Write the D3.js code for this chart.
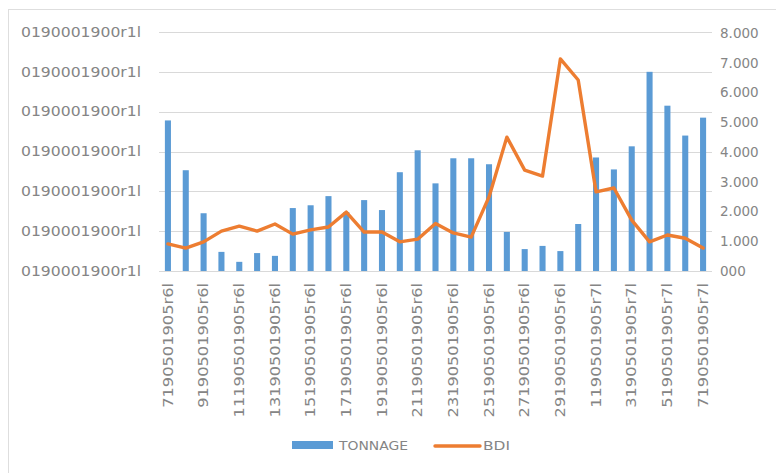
<!DOCTYPE html>
<html>
<head>
<meta charset="utf-8">
<script src="https://cdn.jsdelivr.net/npm/d3@7"></script>
<style>
  html, body { margin: 0; padding: 0; background: #fff; }
  svg { display: block; }
  text { font-family: "DejaVu Sans", sans-serif; fill: #858585; }
</style>
</head>
<body>
<svg id="chart" width="776" height="473"></svg>
<script>
// Daily categories, 7 June to 7 July
const categories = [
  "7190501905r6l", "8190501905r6l", "9190501905r6l", "10190501905r6l",
  "11190501905r6l", "12190501905r6l", "13190501905r6l", "14190501905r6l",
  "15190501905r6l", "16190501905r6l", "17190501905r6l", "18190501905r6l",
  "19190501905r6l", "20190501905r6l", "21190501905r6l", "22190501905r6l",
  "23190501905r6l", "24190501905r6l", "25190501905r6l", "26190501905r6l",
  "27190501905r6l", "28190501905r6l", "29190501905r6l", "30190501905r6l",
  "1190501905r7l", "2190501905r7l", "3190501905r7l", "4190501905r7l",
  "5190501905r7l", "6190501905r7l", "7190501905r7l"
];

// TONNAGE (left axis units)
const tonnage = [
  3.78, 2.53, 1.45, 0.48, 0.23, 0.45, 0.38, 1.58, 1.65, 1.88, 1.48,
  1.78, 1.53, 2.48, 3.03, 2.20, 2.83, 2.83, 2.68, 0.98, 0.55, 0.63,
  0.50, 1.18, 2.85, 2.55, 3.13, 5.00, 4.15, 3.40, 3.85
];

// BDI (right axis, thousands)
const bdi = [
  0.91, 0.77, 0.98, 1.34, 1.51, 1.34, 1.58, 1.24, 1.38, 1.48, 1.98,
  1.31, 1.31, 0.98, 1.07, 1.60, 1.28, 1.14, 2.49, 4.50, 3.39, 3.19,
  7.13, 6.42, 2.66, 2.79, 1.71, 0.98, 1.21, 1.10, 0.77
];

const leftTicks = [0, 1, 2, 3, 4, 5, 6];
const leftTickLabels = ["0190001900r1l", "0190001900r1l", "0190001900r1l",
  "0190001900r1l", "0190001900r1l", "0190001900r1l", "0190001900r1l"];
const rightTicks = [0, 1, 2, 3, 4, 5, 6, 7, 8];
const rightTickLabels = ["000", "1.000", "2.000", "3.000", "4.000",
  "5.000", "6.000", "7.000", "8.000"];

const seriesNames = ["TONNAGE", "BDI"];
const colors = { bar: "#5b9bd5", line: "#ed7d31" };

const svg = d3.select("#chart");

// chart frame
svg.append("rect")
  .attr("x", 8.5).attr("y", 9.5)
  .attr("width", 800).attr("height", 500)
  .attr("fill", "none").attr("stroke", "#dedede");

const plot = { left: 159, right: 712, top: 32, bottom: 271 };

const x = d3.scaleBand()
  .domain(categories)
  .range([plot.left, plot.right])
  .paddingInner(0.66)
  .paddingOuter(0.33);

const yL = d3.scaleLinear().domain([0, 6]).range([plot.bottom, plot.top]);
const yR = d3.scaleLinear().domain([0, 8]).range([plot.bottom, 33]);

// gridlines
svg.append("g")
  .selectAll("line")
  .data(leftTicks)
  .join("line")
  .attr("x1", plot.left).attr("x2", plot.right)
  .attr("y1", d => Math.round(yL(d)) + 0.5)
  .attr("y2", d => Math.round(yL(d)) + 0.5)
  .attr("stroke", "#d9d9d9").attr("stroke-width", 1);

// left axis
const axisL = d3.axisLeft(yL)
  .tickValues(leftTicks)
  .tickSize(0)
  .tickPadding(0)
  .tickFormat((d, i) => leftTickLabels[i]);
const gL = svg.append("g").attr("transform", "translate(141,0)").call(axisL);
gL.select(".domain").remove();
gL.selectAll("text")
  .attr("font-size", 13.5)
  .attr("textLength", 120)
  .attr("lengthAdjust", "spacingAndGlyphs");

// right axis
const axisR = d3.axisRight(yR)
  .tickValues(rightTicks)
  .tickSize(0)
  .tickPadding(0)
  .tickFormat((d, i) => rightTickLabels[i]);
const gR = svg.append("g").attr("transform", "translate(720,0)").call(axisR);
gR.select(".domain").remove();
gR.selectAll("text")
  .attr("font-size", 13.5);

// bottom axis: every other category labelled
const axisB = d3.axisBottom(x)
  .tickSize(0)
  .tickPadding(0)
  .tickFormat((d, i) => (i % 2 === 0 ? d : ""));
const gB = svg.append("g").attr("transform", `translate(0,${plot.bottom})`).call(axisB);
gB.select(".domain").remove();
gB.selectAll("text")
  .attr("font-size", 13.5)
  .attr("text-anchor", "end")
  .attr("transform", "rotate(-90)")
  .attr("x", -12)
  .attr("y", 0)
  .attr("dy", "0.35em")
  .each(function (d, i) {
    if (i % 2 === 0) {
      d3.select(this)
        .attr("textLength", d.length * 9.6)
        .attr("lengthAdjust", "spacingAndGlyphs");
    }
  });

// TONNAGE bars
svg.append("g")
  .selectAll("rect")
  .data(tonnage)
  .join("rect")
  .attr("x", (d, i) => x(categories[i]))
  .attr("width", x.bandwidth())
  .attr("y", d => yL(d))
  .attr("height", d => yL(0) - yL(d))
  .attr("fill", colors.bar);

// BDI line
const line = d3.line()
  .x((d, i) => x(categories[i]) + x.bandwidth() / 2)
  .y(d => yR(d));
svg.append("path")
  .datum(bdi)
  .attr("d", line)
  .attr("fill", "none")
  .attr("stroke", colors.line)
  .attr("stroke-width", 3.4)
  .attr("stroke-linejoin", "round")
  .attr("stroke-linecap", "round");

// legend
const legend = svg.append("g").attr("font-size", 13);
legend.append("rect")
  .attr("x", 292).attr("y", 441).attr("width", 41).attr("height", 8)
  .attr("fill", colors.bar);
legend.append("text")
  .attr("x", 339).attr("y", 445).attr("dy", "0.35em")
  .attr("textLength", 69).attr("lengthAdjust", "spacingAndGlyphs")
  .text(seriesNames[0]);
legend.append("line")
  .attr("x1", 435).attr("x2", 480).attr("y1", 446).attr("y2", 446)
  .attr("stroke", colors.line).attr("stroke-width", 3.4)
  .attr("stroke-linecap", "round");
legend.append("text")
  .attr("x", 483).attr("y", 445).attr("dy", "0.35em")
  .attr("textLength", 27).attr("lengthAdjust", "spacingAndGlyphs")
  .text(seriesNames[1]);
</script>
</body>
</html>
